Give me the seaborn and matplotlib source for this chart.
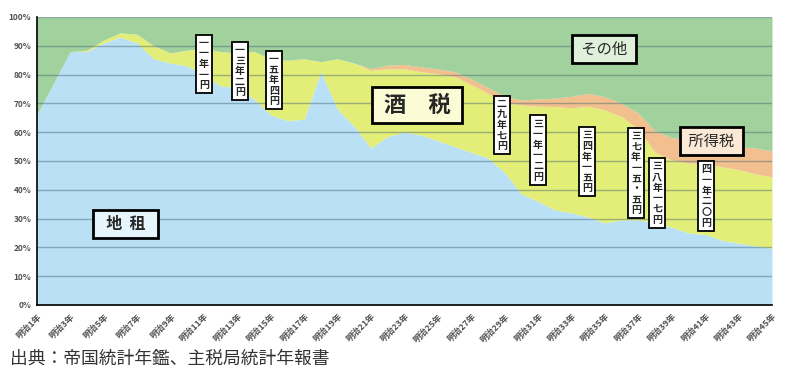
import pandas as pd
import seaborn as sns
import matplotlib.pyplot as plt
import matplotlib.ticker as ticker

# Data: share of national tax revenue (%), Meiji 1 - 45
years = [f"明治{i}年" for i in range(1, 46)]
land_tax = [66, 77, 88, 88, 91, 93, 91, 85.5, 84, 83,
            80, 76, 75.5, 71.5, 66, 64, 64.5, 81, 68, 62,
            54.5, 58.5, 60, 59, 57, 55, 53, 51, 46, 38.5,
            36, 33, 32, 30.5, 28.5, 29.5, 29.5, 28.5, 27, 25,
            24.5, 22.5, 21.5, 20.5, 19.7]
sake_tax = [0, 0, 0, 0.5, 1, 1.5, 3, 4.5, 3.5, 5.5,
            9, 12, 12, 16.5, 19.5, 21, 21, 3.5, 17.5, 22,
            27, 23.5, 22, 22, 23.3, 24.3, 23.5, 22.5, 24.3, 30.9,
            33, 35.9, 36.5, 38.5, 39.2, 35.9, 31.5, 24.5, 23.3, 24.3,
            24.5, 25.5, 25.5, 25, 24.8]
income_tax = [0] * 20 + [0.6, 1.3, 1.5, 1.7, 1.7, 1.7, 2, 2, 2.2, 1.8,
                         2.5, 2.9, 4, 4.5, 4.6, 4.6, 5.6, 7.5, 7.8, 8,
                         7.2, 7, 8, 9, 9]
other = [100 - a - b - c for a, b, c in zip(land_tax, sake_tax, income_tax)]

series_names = ["地租", "酒税", "所得税", "その他"]
colors = ["#b9e0f4", "#e3ee78", "#f2bf8e", "#a1d19c"]

# (label, x, y) of the vertical price notes
notes = [("一一年一円", 10.0, 83.7), ("一三年二円", 12.16, 81.2), ("一五年四円", 14.19, 78.1),
         ("二九年七円", 27.84, 62.5), ("三一年一二円", 30.0, 53.8), ("三四年一五円", 32.93, 49.7),
         ("三七年一五・五円", 35.87, 45.8), ("三八年一七円", 37.13, 38.9), ("四一年二〇円", 40.06, 37.8)]

df = pd.DataFrame({"year": years, "地租": land_tax, "酒税": sake_tax,
                   "所得税": income_tax, "その他": other})

sns.set_theme(style="white")
plt.rcParams["font.family"] = ["Noto Sans CJK JP", "DejaVu Sans"]

fig = plt.figure(figsize=(8, 3.86), dpi=100)
ax = fig.add_axes([0.046, 0.21, 0.919, 0.746])

x = list(range(len(years)))
ax.stackplot(x, *[df[n] for n in series_names], colors=colors, linewidth=0)

for v in range(10, 101, 10):
    ax.axhline(v, color="#3f6475", alpha=0.45, lw=1.0, zorder=2)

ax.set_xlim(0, len(years) - 1)
ax.set_ylim(0, 100)
ax.set_xticks(x)
ax.set_xticklabels([y if i % 2 == 0 else "" for i, y in enumerate(years)],
                   rotation=45, ha="right", va="top", rotation_mode="anchor",
                   fontsize=6.3, fontweight="bold", color="#505050")
ax.set_yticks(range(0, 101, 10))
ax.yaxis.set_major_formatter(ticker.FuncFormatter(lambda v, p: f"{int(v)}%"))
ax.tick_params(axis="y", labelsize=6, colors="#505050", length=0, pad=4)
ax.tick_params(axis="x", direction="in", length=3, width=1, color="black", pad=5)
for lbl in ax.get_yticklabels():
    lbl.set_fontweight("bold")

for s in ["top", "right"]:
    ax.spines[s].set_visible(False)
for s in ["left", "bottom"]:
    ax.spines[s].set_color("black")
    ax.spines[s].set_linewidth(1.2)
    ax.spines[s].set_zorder(5)

# series labels
box = dict(boxstyle="square,pad=0.35", ec="black", lw=2)
ax.text(5.33, 28.1, "  地  租  ", fontsize=11.5, fontweight="bold", ha="center", va="center",
        bbox={**box, "fc": "#e6f5fb"}, zorder=6)
ax.text(22.75, 69.4, " 酒　税 ", fontsize=16, fontweight="bold", ha="center", va="center",
        bbox={**box, "fc": "#fbfcd6", "boxstyle": "square,pad=0.3"}, zorder=6)
ax.text(33.95, 88.9, " その他 ", fontsize=11, ha="center", va="center",
        bbox={**box, "fc": "#dff0da"}, zorder=6)
ax.text(40.36, 56.9, " 所得税 ", fontsize=11, ha="center", va="center",
        bbox={**box, "fc": "#fbe8d6"}, zorder=6)

for label, nx, ny in notes:
    ax.text(nx, ny, "\n".join(label), fontsize=7.2, fontweight="bold", ha="center", va="center",
            linespacing=1.08, bbox=dict(boxstyle="square,pad=0.3", fc="white", ec="black", lw=1.3),
            zorder=6)

fig.text(0.012, 0.07, "出典：帝国統計年鑑、主税局統計年報書", fontsize=12.8, color="#333333",
         ha="left", va="center")

fig.savefig("out.png", dpi=100)
